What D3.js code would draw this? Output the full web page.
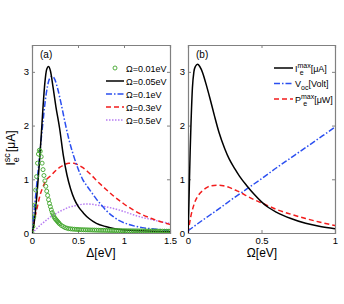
<!DOCTYPE html>
<html>
<head>
<meta charset="utf-8">
<script src="https://cdn.jsdelivr.net/npm/d3@7"></script>
<style>
body { margin: 0; background: #fff; }
text { font-family: "Liberation Sans", Arial, sans-serif; fill: #000; }
</style>
</head>
<body>
<svg id="chart" width="344" height="304"></svg>
<script>
// panel (a): I_e^sc vs Delta for several Omega
// Omega = 0.01 eV, markers (denser near the peak)
const deltaGreen = [0, 0.01, 0.02, 0.03, 0.04, 0.05, 0.06, 0.07, 0.08, 0.09, 0.10, 0.11, 0.12, 0.13, 0.14, 0.15, 0.16, 0.17, 0.18, 0.19, 0.20, 0.21, 0.22, 0.23, 0.24, 0.25, 0.26, 0.27, 0.28, 0.29, 0.30, 0.32, 0.34, 0.36, 0.38, 0.40, 0.42, 0.44, 0.46, 0.48, 0.50, 0.52, 0.54, 0.56, 0.58, 0.60, 0.62, 0.64, 0.66, 0.68, 0.70, 0.72, 0.74, 0.76, 0.78, 0.80, 0.82, 0.84, 0.86, 0.88, 0.90, 0.92, 0.94, 0.96, 0.98, 1.00, 1.02, 1.04, 1.06, 1.08, 1.10, 1.12, 1.14, 1.16, 1.18, 1.20, 1.22, 1.24, 1.26, 1.28, 1.30, 1.32, 1.34, 1.36, 1.38, 1.40, 1.42, 1.44, 1.46, 1.48, 1.50];
const iGreen = [0, 0.12, 0.3, 0.52, 0.8, 1.05, 1.3, 1.47, 1.54, 1.52, 1.42, 1.3, 1.18, 1.07, 0.97, 0.87, 0.78, 0.7, 0.62, 0.55, 0.49, 0.43, 0.38, 0.34, 0.3, 0.27, 0.25, 0.23, 0.21, 0.19, 0.17, 0.14, 0.12, 0.1, 0.09, 0.08, 0.077, 0.073, 0.07, 0.067, 0.065, 0.063, 0.061, 0.06, 0.059, 0.058, 0.057, 0.056, 0.055, 0.054, 0.053, 0.052, 0.051, 0.05, 0.05, 0.049, 0.048, 0.047, 0.047, 0.046, 0.045, 0.045, 0.044, 0.043, 0.043, 0.042, 0.042, 0.041, 0.041, 0.04, 0.04, 0.039, 0.039, 0.038, 0.038, 0.038, 0.037, 0.037, 0.036, 0.036, 0.036, 0.035, 0.035, 0.035, 0.034, 0.034, 0.034, 0.034, 0.033, 0.033, 0.033];

const deltaBlack = [0, 0.02, 0.04, 0.06, 0.08, 0.10, 0.12, 0.14, 0.16, 0.18, 0.20, 0.23, 0.26, 0.30, 0.34, 0.38, 0.42, 0.46, 0.50, 0.56, 0.62, 0.70, 0.80, 0.90, 1.0, 1.2, 1.5];
const iBlack = [0, 0.15, 0.45, 0.85, 1.3, 1.8, 2.35, 2.8, 3.05, 3.1, 3.02, 2.7, 2.35, 1.95, 1.45, 1.08, 0.82, 0.63, 0.5, 0.37, 0.27, 0.18, 0.12, 0.08, 0.06, 0.04, 0.025];

const deltaBlue = [0, 0.02, 0.04, 0.06, 0.08, 0.10, 0.12, 0.14, 0.16, 0.18, 0.20, 0.22, 0.25, 0.28, 0.32, 0.36, 0.40, 0.45, 0.50, 0.55, 0.60, 0.65, 0.70, 0.75, 0.80, 0.88, 0.95, 1.05, 1.2, 1.35, 1.5];
const iBlue = [0, 0.35, 0.7, 1.05, 1.38, 1.75, 2.08, 2.4, 2.65, 2.82, 2.9, 2.92, 2.85, 2.68, 2.38, 2.05, 1.75, 1.45, 1.2, 1.0, 0.87, 0.75, 0.63, 0.53, 0.43, 0.31, 0.23, 0.16, 0.1, 0.07, 0.05];

const deltaRed = [0, 0.03, 0.06, 0.09, 0.12, 0.16, 0.20, 0.25, 0.30, 0.35, 0.40, 0.45, 0.50, 0.55, 0.60, 0.65, 0.70, 0.80, 0.90, 1.0, 1.1, 1.2, 1.3, 1.4, 1.5];
const iRed = [0, 0.27, 0.5, 0.72, 0.86, 1.0, 1.06, 1.15, 1.22, 1.27, 1.3, 1.3, 1.27, 1.22, 1.15, 1.07, 0.98, 0.82, 0.67, 0.54, 0.43, 0.34, 0.27, 0.21, 0.16];

const deltaPurple = [0, 0.05, 0.1, 0.15, 0.2, 0.25, 0.3, 0.35, 0.4, 0.45, 0.5, 0.55, 0.6, 0.65, 0.7, 0.8, 0.9, 1.0, 1.1, 1.2, 1.3, 1.4, 1.5];
const iPurple = [0, 0.08, 0.16, 0.23, 0.3, 0.35, 0.4, 0.44, 0.48, 0.5, 0.52, 0.535, 0.54, 0.535, 0.52, 0.49, 0.45, 0.4, 0.34, 0.29, 0.25, 0.21, 0.18];

const legendA = ["\u03A9=0.01eV", "\u03A9=0.05eV", "\u03A9=0.1eV", "\u03A9=0.3eV", "\u03A9=0.5eV"];

// panel (b): vs Omega
const omegaImax = [0, 0.005, 0.01, 0.015, 0.02, 0.03, 0.04, 0.05, 0.065, 0.08, 0.1, 0.12, 0.15, 0.18, 0.21, 0.25, 0.28, 0.32, 0.35, 0.4, 0.45, 0.5, 0.55, 0.6, 0.7, 0.8, 0.9, 1.0];
const iMax = [0, 0.4, 1.0, 1.55, 2.0, 2.7, 3.0, 3.1, 3.14, 3.1, 2.98, 2.8, 2.5, 2.18, 1.88, 1.57, 1.38, 1.19, 1.06, 0.88, 0.72, 0.58, 0.47, 0.39, 0.27, 0.18, 0.12, 0.08];

const omegaVoc = [0, 0.1, 0.2, 0.3, 0.4, 0.5, 0.6, 0.7, 0.8, 0.9, 1.0];
const vOc = [0.04, 0.24, 0.43, 0.63, 0.82, 1.01, 1.21, 1.4, 1.59, 1.78, 1.97];

const omegaPmax = [0, 0.01, 0.02, 0.03, 0.05, 0.07, 0.1, 0.13, 0.16, 0.2, 0.24, 0.28, 0.32, 0.36, 0.4, 0.45, 0.5, 0.55, 0.6, 0.7, 0.8, 0.9, 1.0];
const pMax = [0, 0.17, 0.32, 0.43, 0.6, 0.7, 0.79, 0.85, 0.88, 0.89, 0.88, 0.85, 0.8, 0.75, 0.69, 0.62, 0.56, 0.5, 0.44, 0.35, 0.27, 0.2, 0.14];

const yTicks = [0, 1, 2, 3];
const xTicksA = [0, 0.5, 1, 1.5];
const xTicksB = [0, 0.5, 1];

const svg = d3.select("#chart");
const plotTop = 45, plotBottom = 233;
const axisColor = "#808080";

const yScale = d3.scaleLinear().domain([0, 3.5]).range([plotBottom, plotTop]);
const xA = d3.scaleLinear().domain([0, 1.5]).range([32, 170]);
const xB = d3.scaleLinear().domain([0, 1]).range([188, 335]);

function zip(xs, ys) { return xs.map((x, i) => ({x: x, y: ys[i]})); }

// draws frame, inward ticks on all sides and tick labels
function drawFrame(x, xt, id) {
	const x0 = x.range()[0], x1 = x.range()[1];
	svg.append("clipPath").attr("id", id)
		.append("rect").attr("x", x0).attr("y", plotTop).attr("width", x1 - x0).attr("height", plotBottom - plotTop);

	const g = svg.append("g");
	g.append("g").attr("transform", "translate(0," + plotBottom + ")")
		.call(d3.axisBottom(x).tickValues(xt).tickSize(-3).tickPadding(4).tickFormat(d3.format("")));
	g.append("g").attr("transform", "translate(0," + plotTop + ")")
		.call(d3.axisTop(x).tickValues(xt).tickSize(-3).tickFormat(""));
	g.append("g").attr("transform", "translate(" + x0 + ",0)")
		.call(d3.axisLeft(yScale).tickValues(yTicks).tickSize(-3).tickPadding(3).tickFormat(d3.format("")));
	g.append("g").attr("transform", "translate(" + x1 + ",0)")
		.call(d3.axisRight(yScale).tickValues(yTicks).tickSize(-3).tickFormat(""));
	g.selectAll(".domain").attr("stroke", axisColor).attr("stroke-width", 1.2);
	g.selectAll(".tick line").attr("stroke", axisColor);
	g.selectAll(".tick text").style("font-size", "9.5px").style("font-family", "Liberation Sans, Arial, sans-serif");
	return g;
}

function drawLine(x, data, color, dash, clip, width) {
	const line = d3.line().x(d => x(d.x)).y(d => yScale(d.y)).curve(d3.curveMonotoneX);
	svg.append("path")
		.datum(data)
		.attr("clip-path", "url(#" + clip + ")")
		.attr("d", line)
		.style("fill", "none")
		.style("stroke", color)
		.style("stroke-width", width || 1.5)
		.style("stroke-dasharray", dash);
}

const green = "#3fa52a", blue = "#2b4ff0", red = "#f21c1c", purple = "#b77cf2";
const dashes = {solid: null, dashdot: "6,2,1.5,2", dashed: "5,3", dotted: "1.5,1.5"};

// ---- panel (a)
drawFrame(xA, xTicksA, "clipA");
drawLine(xA, zip(deltaPurple, iPurple), purple, dashes.dotted, "clipA");
drawLine(xA, zip(deltaRed, iRed), red, dashes.dashed, "clipA");
drawLine(xA, zip(deltaBlue, iBlue), blue, dashes.dashdot, "clipA");
drawLine(xA, zip(deltaBlack, iBlack), "#000", dashes.solid, "clipA");

svg.append("g").attr("clip-path", "url(#clipA)")
	.selectAll("circle")
	.data(zip(deltaGreen, iGreen))
	.enter()
	.append("circle")
	.attr("cx", d => xA(d.x))
	.attr("cy", d => yScale(d.y))
	.attr("r", 2)
	.style("fill", "none")
	.style("stroke", green)
	.style("stroke-width", 0.9);

svg.append("text").attr("x", 40).attr("y", 58).style("font-size", "10px").text("(a)");

// legend (a)
const legA = svg.append("g");
const styleA = [
	{c: green, d: null, marker: true},
	{c: "#000", d: dashes.solid},
	{c: blue, d: dashes.dashdot},
	{c: red, d: dashes.dashed},
	{c: purple, d: dashes.dotted}
];
legendA.forEach((t, i) => {
	const y = 68 + i * 13;
	if (styleA[i].marker) {
		legA.append("circle").attr("cx", 115).attr("cy", y).attr("r", 2)
			.style("fill", "none").style("stroke", green).style("stroke-width", 0.9);
	} else {
		legA.append("line").attr("x1", 106).attr("x2", 124).attr("y1", y).attr("y2", y)
			.style("stroke", styleA[i].c).style("stroke-width", 1.5).style("stroke-dasharray", styleA[i].d);
	}
	legA.append("text").attr("x", 126).attr("y", y + 3.5).style("font-size", "9px").text(t);
});

// x label (a)
svg.append("text").attr("x", 101).attr("y", 257).attr("text-anchor", "middle")
	.style("font-size", "12px").text("\u0394[eV]");

// y label, rotated
const yl = svg.append("text")
	.attr("transform", "translate(15,148) rotate(-90)")
	.attr("text-anchor", "middle")
	.style("font-size", "12px");
yl.append("tspan").text("I");
yl.append("tspan").attr("dy", -5).style("font-size", "9px").text("sc");
yl.append("tspan").attr("dx", -9).attr("dy", 9).style("font-size", "9px").text("e");
yl.append("tspan").attr("dx", 5).attr("dy", -4).text("[\u03BCA]");

// ---- panel (b)
drawFrame(xB, xTicksB, "clipB");
drawLine(xB, zip(omegaPmax, pMax), red, dashes.dashed, "clipB");
drawLine(xB, zip(omegaVoc, vOc), blue, dashes.dashdot, "clipB");
drawLine(xB, zip(omegaImax, iMax), "#000", dashes.solid, "clipB");

svg.append("text").attr("x", 196).attr("y", 58).style("font-size", "10px").text("(b)");

// legend (b)
const legB = svg.append("g");
const legendB = [
	{base: "I", sub: "e", sup: "max", unit: "[\u03BCA]", c: "#000", d: dashes.solid},
	{base: "V", sub: "oc", sup: null, unit: "[Volt]", c: blue, d: dashes.dashdot},
	{base: "P", sub: "e", sup: "max", unit: "[\u03BCW]", c: red, d: dashes.dashed}
];
legendB.forEach((e, i) => {
	const y = 68 + i * 15.5;
	legB.append("line").attr("x1", 274).attr("x2", 293).attr("y1", y).attr("y2", y)
		.style("stroke", e.c).style("stroke-width", 1.5).style("stroke-dasharray", e.d);
	const t = legB.append("text").attr("x", 295).attr("y", y + 3.5).style("font-size", "9px");
	t.append("tspan").text(e.base);
	if (e.sup) {
		t.append("tspan").attr("dy", -4).style("font-size", "7px").text(e.sup);
		t.append("tspan").attr("dx", -(e.sup.length * 3.7)).attr("dy", 7).style("font-size", "7px").text(e.sub);
		t.append("tspan").attr("dx", e.sup.length * 3.7 - 4).attr("dy", -3).text(e.unit);
	} else {
		t.append("tspan").attr("dy", 3).style("font-size", "7px").text(e.sub);
		t.append("tspan").attr("dy", -3).text(e.unit);
	}
});

svg.append("text").attr("x", 262).attr("y", 257).attr("text-anchor", "middle")
	.style("font-size", "12px").text("\u03A9[eV]");
</script>
</body>
</html>
